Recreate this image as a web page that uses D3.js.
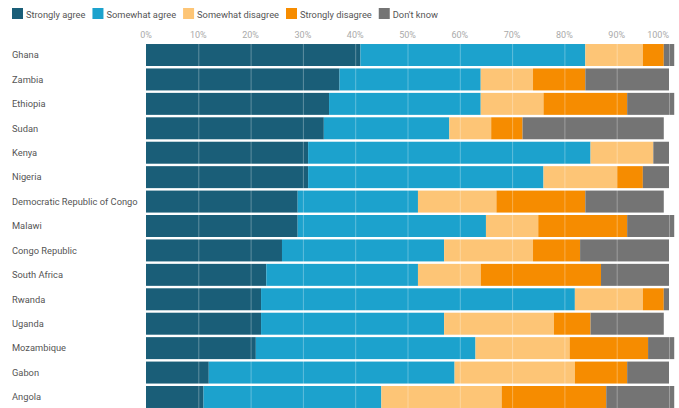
<!DOCTYPE html>
<html>
<head>
<meta charset="utf-8">
<script src="https://cdn.jsdelivr.net/npm/d3@7"></script>
<style>
  html, body { margin: 0; padding: 0; background: #fff; }
  svg { display: block; font-family: Roboto, "Noto Sans", sans-serif; }
</style>
</head>
<body>
<svg id="chart" width="679" height="408"></svg>
<script>
const categories = ["Ghana","Zambia","Ethiopia","Sudan","Kenya","Nigeria","Democratic Republic of Congo","Malawi","Congo Republic","South Africa","Rwanda","Uganda","Mozambique","Gabon","Angola"];
const seriesNames = ["Strongly agree","Somewhat agree","Somewhat disagree","Strongly disagree","Don't know"];
const stronglyAgree    = [41,37,35,34,31,31,29,29,26,23,22,22,21,12,11];
const somewhatAgree    = [43,27,29,24,54,45,23,36,31,29,60,35,42,47,34];
const somewhatDisagree = [11,10,12, 8,12,14,15,10,17,12,13,21,18,23,23];
const stronglyDisagree = [ 4,10,16, 6, 0, 5,17,17, 9,23, 4, 7,15,10,20];
const dontKnow         = [ 2,16, 9,27, 3, 5,15, 9,17,13, 1,14, 5, 8,13];
const tickValues = [0,10,20,30,40,50,60,70,80,90,100];
const colors = ["#1a5e78","#1ca2cd","#fdc576","#f68c00","#747474"];

const seriesValues = [stronglyAgree, somewhatAgree, somewhatDisagree, stronglyDisagree, dontKnow];
const table = categories.map((c, i) => {
  const row = { country: c };
  seriesNames.forEach((k, j) => row[k] = seriesValues[j][i]);
  return row;
});

const svg = d3.select("#chart");
const x = d3.scaleLinear().domain([0, 100]).range([146, 669]);
const y = d3.scaleBand().domain(categories).range([42.8, 409.2]).paddingInner(0.1).paddingOuter(0.05);
const color = d3.scaleOrdinal().domain(seriesNames).range(colors);

const stack = d3.stack().keys(seriesNames)(table);

// legend
let lx = 12;
const legend = svg.append("g");
seriesNames.forEach((k) => {
  const g = legend.append("g").attr("transform", `translate(${lx},8)`);
  g.append("rect").attr("width", 11).attr("height", 11).attr("fill", color(k));
  const t = g.append("text").attr("x", 14).attr("y", 9.5)
    .attr("font-size", 9.3).attr("fill", "#555").text(k);
  lx += 14 + t.node().getComputedTextLength() + 7;
});

// axis labels
const axis = svg.append("g");
axis.selectAll("text").data(tickValues).join("text")
  .attr("x", d => x(d))
  .attr("y", 38)
  .attr("text-anchor", d => d === 100 ? "end" : "middle")
  .attr("font-size", 9)
  .attr("fill", "#aaa")
  .text(d => d + "%");

// bars
svg.append("g").selectAll("g").data(stack).join("g")
  .attr("fill", d => color(d.key))
  .selectAll("rect").data(d => d).join("rect")
  .attr("x", d => x(d[0]))
  .attr("y", d => y(d.data.country))
  .attr("width", d => Math.max(0, x(d[1]) - x(d[0])))
  .attr("height", y.bandwidth());

// gridlines over bars
svg.append("g").selectAll("line").data(tickValues.slice(1)).join("line")
  .attr("x1", d => x(d) + 0.5).attr("x2", d => x(d) + 0.5)
  .attr("y1", 43).attr("y2", 408)
  .attr("stroke", "#fff").attr("stroke-opacity", 0.3).attr("stroke-width", 1);

// category labels
svg.append("g").selectAll("text").data(categories).join("text")
  .attr("x", 12)
  .attr("y", d => y(d) + y.bandwidth() / 2)
  .attr("dy", "0.35em")
  .attr("font-size", 9.3)
  .attr("fill", "#555")
  .text(d => d);
</script>
</body>
</html>
